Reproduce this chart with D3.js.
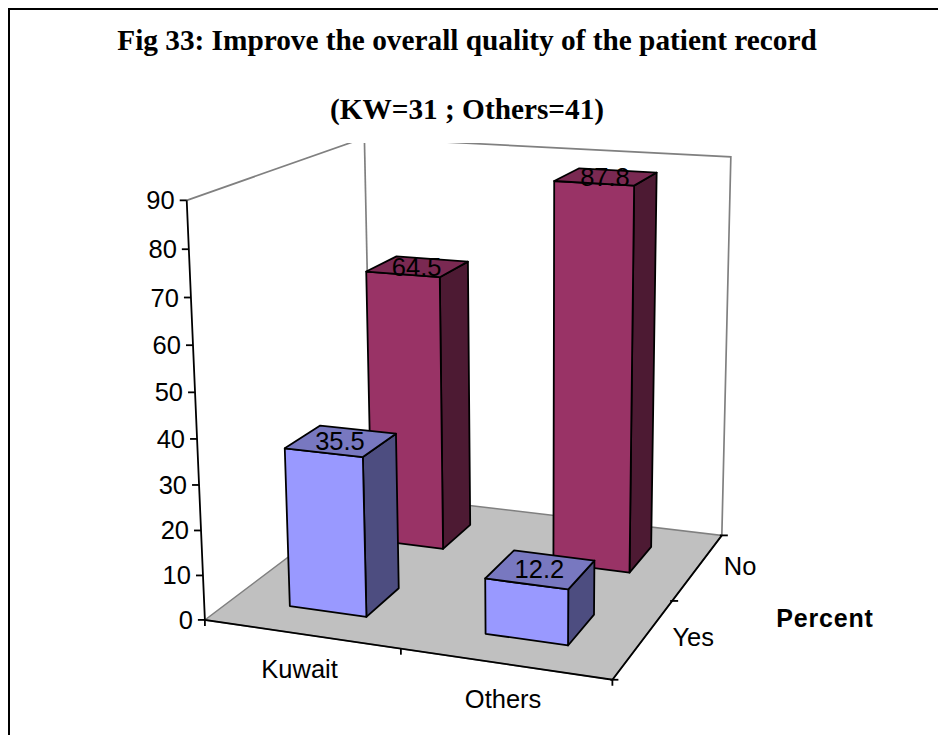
<!DOCTYPE html>
<html><head><meta charset="utf-8">
<script src="https://cdn.jsdelivr.net/npm/d3@7/dist/d3.min.js"></script>
<style>html,body{margin:0;background:#fff}svg{display:block}</style></head>
<body><div id="c"></div>
<script>
const titleLines = ["Fig 33: Improve the overall quality of the patient record", "(KW=31 ; Others=41)"];
const categories = ["Kuwait", "Others"];
const seriesNames = ["Yes", "No"];
const yesValues = [35.5, 12.2];
const noValues = [64.5, 87.8];
const valueTicks = d3.range(0, 100, 10);
const depthAxisTitle = "Percent";
const colors = {
  Yes: {front: "#9999FF", top: "#7878C0", side: "#4D4D80"},
  No: {front: "#993366", top: "#7A2952", side: "#4D1A33"}
};

const W = 938, H = 735;
const svg = d3.select("#c").append("svg").attr("width", W).attr("height", H);

const xBand = d3.scaleBand().domain(categories).range([0, 1]).paddingInner(0.6).paddingOuter(0.3);
const zBand = d3.scaleBand().domain(seriesNames).range([0, 1]).paddingInner(0.6).paddingOuter(0.3);
const yScale = d3.scaleLinear().domain([0, 90]).range([0, 1]);

const calib = [
  [[0,0,0],[205,620]], [[1,0,0],[612,680]], [[1,1,0],[722,535]], [[0,1,0],[372,494]],
  [[0,0,1],[187,200]], [[1,1,1],[731,157]], [[0,1,1],[364,138]]
];
function solve(A, b) {
  const n = A.length, M = A.map((r, i) => [...r, b[i]]);
  for (let i = 0; i < n; i++) {
    let p = i;
    for (let k = i + 1; k < n; k++) if (Math.abs(M[k][i]) > Math.abs(M[p][i])) p = k;
    [M[i], M[p]] = [M[p], M[i]];
    for (let k = 0; k < n; k++) if (k !== i) {
      const f = M[k][i] / M[i][i];
      for (let j = i; j <= n; j++) M[k][j] -= f * M[i][j];
    }
  }
  return M.map((r, i) => r[n] / r[i]);
}
const rows = [], rhs = [];
calib.forEach(([[u,v,h],[x,y]]) => {
  rows.push([u,v,h,1,0,0,0,0,-x*u,-x*v,-x*h]); rhs.push(x);
  rows.push([0,0,0,0,u,v,h,1,-y*u,-y*v,-y*h]); rhs.push(y);
});
const ATA = d3.range(11).map(i => d3.range(11).map(j => d3.sum(rows, r => r[i]*r[j])));
const ATb = d3.range(11).map(i => d3.sum(rows, (r, k) => r[i]*rhs[k]));
const P = solve(ATA, ATb);
function proj(u, v, h) {
  const w = P[8]*u + P[9]*v + P[10]*h + 1;
  return [(P[0]*u + P[1]*v + P[2]*h + P[3]) / w, (P[4]*u + P[5]*v + P[6]*h + P[7]) / w];
}
const line = d3.line();
const poly = pts => line(pts) + "Z";

svg.append("defs").append("clipPath").attr("id", "below").append("rect")
  .attr("x", 0).attr("y", 143).attr("width", W).attr("height", H);
const walls = svg.append("g").attr("clip-path", "url(#below)")
  .attr("fill", "none").attr("stroke", "#808080").attr("stroke-width", 1.7);
walls.append("path").attr("d", line([proj(0,0,1), proj(0,1,1), proj(1,1,1), proj(1,1,0)]));
walls.append("path").attr("d", line([proj(0,1,1), proj(0,1,0)]));

svg.append("path").attr("d", poly([proj(0,0,0), proj(1,0,0), proj(1,1,0), proj(0,1,0)]))
  .attr("fill", "#C0C0C0").attr("stroke", "#808080").attr("stroke-width", 1.5);

const ax = svg.append("g").attr("stroke", "#000").attr("stroke-width", 1.8).attr("fill", "none");
ax.append("path").attr("d", line([proj(0,0,1), proj(0,0,0), proj(1,0,0), proj(1,1,0)]));
valueTicks.forEach(t => {
  const p = proj(0,0,yScale(t));
  ax.append("path").attr("d", line([[p[0]-7, p[1]], p]));
});
[0, 0.5, 1].forEach(u => {
  const p = proj(u,0,0);
  ax.append("path").attr("d", line([p, [p[0], p[1]+6]]));
});
[0, 0.5, 1].forEach(v => {
  const p = proj(1,v,0);
  ax.append("path").attr("d", line([[p[0]-2, p[1]], [p[0]+6, p[1]]]));
});

const bars = [];
[["No", noValues], ["Yes", yesValues]].forEach(([s, vals]) => {
  categories.forEach((c, i) => bars.push({s, c, value: vals[i]}));
});
const barG = svg.append("g").attr("stroke", "#000").attr("stroke-width", 1.8).attr("stroke-linejoin", "round");
bars.forEach(d => {
  const u0 = xBand(d.c), u1 = u0 + xBand.bandwidth();
  const v0 = zBand(d.s), v1 = v0 + zBand.bandwidth();
  const h = yScale(d.value), col = colors[d.s];
  barG.append("path").attr("fill", col.side)
    .attr("d", poly([proj(u1,v0,0), proj(u1,v1,0), proj(u1,v1,h), proj(u1,v0,h)]));
  barG.append("path").attr("fill", col.front)
    .attr("d", poly([proj(u0,v0,0), proj(u1,v0,0), proj(u1,v0,h), proj(u0,v0,h)]));
  barG.append("path").attr("fill", col.top)
    .attr("d", poly([proj(u0,v0,h), proj(u1,v0,h), proj(u1,v1,h), proj(u0,v1,h)]));
});

const sans = "'Liberation Sans', Arial, sans-serif";
const serif = "'Liberation Serif', 'Times New Roman', serif";
bars.forEach(d => {
  const p = proj(xBand(d.c) + xBand.bandwidth()/2, zBand(d.s) + zBand.bandwidth()/2, yScale(d.value));
  svg.append("text").attr("x", p[0] - 1).attr("y", p[1] + 9)
    .attr("text-anchor", "middle").attr("font-family", sans).attr("font-size", 25.5)
    .attr("fill", "#000").text(d.value.toFixed(1));
});

const tickFont = sel => sel.attr("font-family", sans).attr("font-size", 25.5).attr("fill", "#000");
valueTicks.forEach(t => {
  const p = proj(0,0,yScale(t));
  svg.append("text").call(tickFont).attr("x", p[0]-12).attr("y", p[1]+9)
    .attr("text-anchor", "end").text(t);
});
categories.forEach(c => {
  const p = proj(xBand(c) + xBand.bandwidth()/2, 0, 0);
  svg.append("text").call(tickFont).attr("x", p[0]-1.5).attr("y", p[1]+44)
    .attr("text-anchor", "middle").text(c);
});
const seriesLabelDx = {Yes: 49.5, No: 42};
seriesNames.forEach(s => {
  const p = proj(1, zBand(s) + zBand.bandwidth()/2, 0);
  svg.append("text").call(tickFont).attr("x", p[0]+seriesLabelDx[s]).attr("y", p[1]+8)
    .attr("text-anchor", "middle").text(s);
});
svg.append("text").call(tickFont).attr("x", 825).attr("y", 627).attr("font-size", 25)
  .attr("text-anchor", "middle").attr("font-weight", "bold").attr("letter-spacing", 0.8).text(depthAxisTitle);

[50, 119].forEach((y, i) => {
  svg.append("text").attr("x", 467).attr("y", y).attr("text-anchor", "middle")
    .attr("font-family", serif).attr("font-weight", "bold").attr("font-size", 29.3)
    .attr("fill", "#000").text(titleLines[i]);
});

svg.append("path").attr("d", line([[9,H],[9,9],[W,9]]))
  .attr("fill", "none").attr("stroke", "#000").attr("stroke-width", 2);
</script></body></html>
